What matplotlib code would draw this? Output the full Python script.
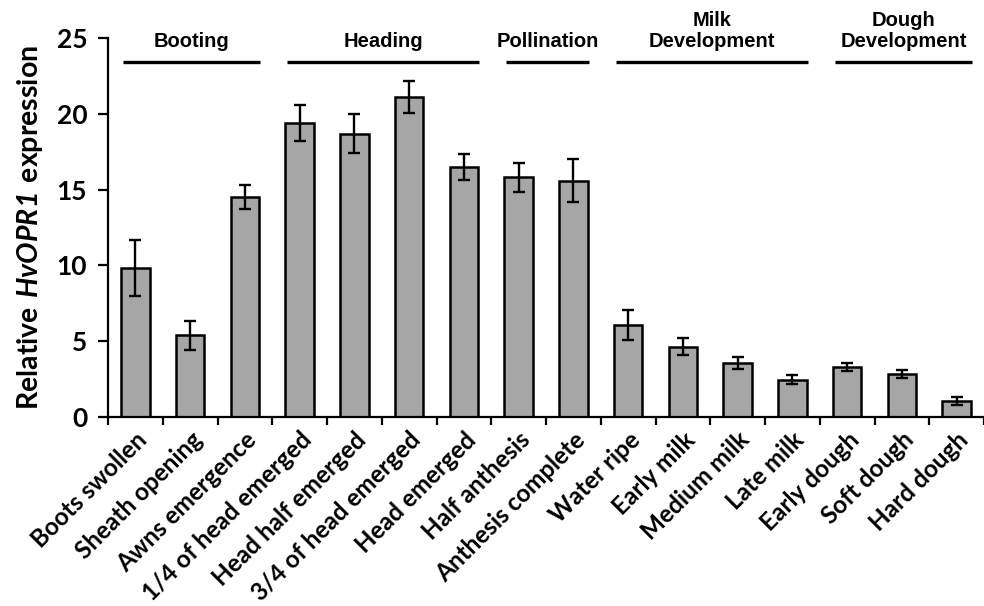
import numpy as np
import matplotlib
matplotlib.use("Agg")
import matplotlib.pyplot as plt
from matplotlib.ticker import FixedLocator

plt.rcParams["mathtext.fontset"] = "custom"
plt.rcParams["mathtext.bf"] = "Lato:bold"
plt.rcParams["mathtext.bfit"] = "Lato:italic:bold"

# stages and measured expression
stages = ["Boots swollen", "Sheath opening", "Awns emergence", "1/4 of head emerged",
          "Head half emerged", "3/4 of head emerged", "Head emerged", "Half anthesis",
          "Anthesis complete", "Water ripe", "Early milk", "Medium milk", "Late milk",
          "Early dough", "Soft dough", "Hard dough"]
expression = [9.8, 5.4, 14.5, 19.4, 18.7, 21.1, 16.5, 15.8, 15.6,
              6.05, 4.65, 3.55, 2.45, 3.3, 2.85, 1.08]
errors = [1.85, 0.95, 0.8, 1.2, 1.3, 1.05, 0.85, 0.95, 1.4,
          1.0, 0.55, 0.4, 0.3, 0.25, 0.28, 0.27]

# phase groups: label, first stage index, last stage index
group_labels = ["Booting", "Heading", "Pollination", "Milk\nDevelopment", "Dough\nDevelopment"]
group_first = [0, 3, 7, 9, 13]
group_last = [2, 6, 8, 12, 15]

fig = plt.figure(figsize=(9.84, 6.06), dpi=100)
ax = fig.add_axes([108 / 984, 1 - 417 / 606, 876 / 984, 379 / 606])

x = np.arange(len(stages))
ax.bar(x, expression, width=0.52, color="#a6a6a6", edgecolor="black", linewidth=1.8, zorder=2)
ax.errorbar(x, expression, yerr=errors, fmt="none", ecolor="black",
            elinewidth=1.7, capsize=4.5, capthick=1.7, zorder=3)

ax.set_xlim(-0.5, 15.5)
ax.set_ylim(0, 25)
ax.set_yticks([0, 5, 10, 15, 20, 25])
ax.spines["top"].set_visible(False)
ax.spines["right"].set_visible(False)
ax.spines["left"].set_linewidth(1.6)
ax.spines["bottom"].set_linewidth(1.6)

tick_font = {"family": "Lato", "weight": "bold", "size": 17.5}
ax.set_xticks(x)
ax.set_xticklabels(stages, rotation=45, ha="right", rotation_mode="anchor", fontdict=tick_font)
ax.tick_params(axis="x", which="major", length=0, pad=8)
ax.xaxis.set_minor_locator(FixedLocator(np.arange(-0.5, 16, 1)))
ax.tick_params(axis="x", which="minor", length=6, width=1.6, direction="out")
for lab in ax.get_yticklabels():
    lab.set_fontfamily("Lato")
    lab.set_fontweight("bold")
    lab.set_fontsize(19)
ax.tick_params(axis="y", length=7, width=1.6, direction="out", pad=8)

ax.set_ylabel(r"$\mathbf{Relative\ }\mathbfit{HvOPR1}\mathbf{\ expression}$",
              fontsize=20.5, labelpad=8)

# group bars and labels above the plot
line_y = 23.4
for lab, a, b in zip(group_labels, group_first, group_last):
    ax.plot([a - 0.23, b + 0.28], [line_y, line_y], color="black", lw=2.4,
            solid_capstyle="butt", clip_on=False)
    ax.text((a + b) / 2 + 0.03, line_y + 0.75, lab, ha="center", va="bottom",
            fontfamily="Liberation Sans", fontweight="bold", fontsize=14.5,
            linespacing=1.1)

fig.savefig("out.png", dpi=100)
